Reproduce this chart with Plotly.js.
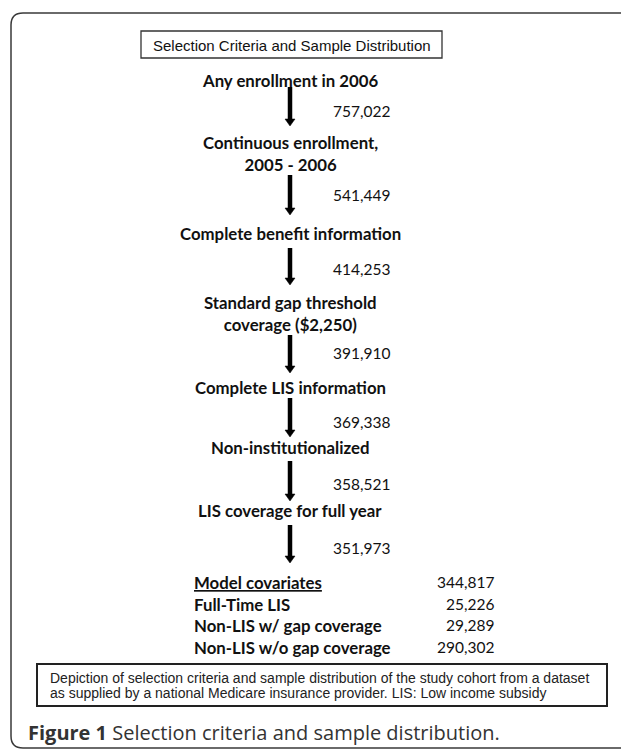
<!DOCTYPE html>
<html>
<head>
<meta charset="utf-8">
<script src="https://cdn.plot.ly/plotly-3.0.1.min.js"></script>
<style>html,body{margin:0;padding:0;background:#fff;}#chart{width:621px;height:750px;}</style>
</head>
<body>
<div id="chart"></div>
<script>
// ---- data ----
var headerText = "Selection Criteria and Sample Distribution";
var stepLabels = [
  "Any enrollment in 2006",
  "Continuous enrollment,<br>2005 - 2006",
  "Complete benefit information",
  "Standard gap threshold<br>coverage ($2,250)",
  "Complete LIS information",
  "Non-institutionalized",
  "LIS coverage for full year"
];
var stepCounts = [757022, 541449, 414253, 391910, 369338, 358521, 351973];
var covariateLabels = ["Model covariates", "Full-Time LIS", "Non-LIS w/ gap coverage", "Non-LIS w/o gap coverage"];
var covariateCounts = [344817, 25226, 29289, 290302];
var footnoteLines = [
  "Depiction of selection criteria and sample distribution of the study cohort from a dataset",
  "as supplied by a national Medicare insurance provider. LIS: Low income subsidy"
];
var captionBold = "Figure 1";
var captionText = " Selection criteria and sample distribution.";

// ---- layout positions (pixel-like coordinates) ----
var cx = 290;
var labelY = [80, 153, 233, 313, 387, 447, 510];
var arrowY = [[87,126],[175,215],[248,285],[335,373],[398,437],[461,501],[525,563]];
var countY = [111, 195, 269, 353, 422, 484, 548];
var countX = 331;
var covY = [582, 604, 625, 647];
var covLabelX = 192, covCountX = 496;
var footY = [678, 693];

function fmt(n){ return n.toLocaleString('en-US'); }

var stepFont = {family: "Lato, 'Open Sans', sans-serif", size: 16.8, color: "#111"};
var countFont = {family: "Lato, 'Open Sans', sans-serif", size: 15.5, color: "#111"};

var annotations = [];
var shapes = [];

// outer rounded frame
shapes.push({type:'path', xref:'x', yref:'y',
  path:'M 660,13 L 23,13 Q 11,13 11,25 L 11,736 Q 11,748 23,748 L 660,748',
  line:{color:'#3a3a3a', width:1.5}});
// header box
shapes.push({type:'rect', xref:'x', yref:'y', x0:141, x1:442, y0:31, y1:58, line:{color:'#333', width:1.3}});
annotations.push({xref:'x', yref:'y', x:291.5, y:45, text:headerText, showarrow:false,
  xanchor:'center', yanchor:'middle', font:{family:"'Liberation Sans', Arial, sans-serif", size:15, color:'#111'}});

// steps
for (var i = 0; i < stepLabels.length; i++) {
  annotations.push({xref:'x', yref:'y', x:cx, y:labelY[i], text:'<b>'+stepLabels[i]+'</b>', showarrow:false,
    xanchor:'center', yanchor:'middle', align:'center', font:stepFont});
  annotations.push({xref:'x', yref:'y', x:countX, y:countY[i], text:fmt(stepCounts[i]), showarrow:false,
    xanchor:'left', yanchor:'middle', font:countFont});
  var a0 = arrowY[i][0], a1 = arrowY[i][1];
  shapes.push({type:'line', xref:'x', yref:'y', x0:cx, x1:cx, y0:a0, y1:a1-5, line:{color:'#000', width:4.5}});
  shapes.push({type:'path', xref:'x', yref:'y',
    path:'M '+(cx-5)+','+(a1-7)+' L '+(cx+5)+','+(a1-7)+' L '+cx+','+a1+' Z',
    fillcolor:'#000', line:{color:'#000', width:0.5}});
}

// covariates
for (var j = 0; j < covariateLabels.length; j++) {
  var lbl = j === 0 ? '<b><u>'+covariateLabels[j]+'</u></b>' : '<b>'+covariateLabels[j]+'</b>';
  annotations.push({xref:'x', yref:'y', x:covLabelX, y:covY[j], text:lbl, showarrow:false,
    xanchor:'left', yanchor:'middle', font:stepFont});
  annotations.push({xref:'x', yref:'y', x:covCountX, y:covY[j], text:fmt(covariateCounts[j]), showarrow:false,
    xanchor:'right', yanchor:'middle', font:countFont});
}

// footnote box
shapes.push({type:'rect', xref:'x', yref:'y', x0:37, x1:607, y0:664, y1:706, line:{color:'#222', width:2}});
for (var k = 0; k < footnoteLines.length; k++) {
  annotations.push({xref:'x', yref:'y', x:48, y:footY[k], text:footnoteLines[k], showarrow:false,
    xanchor:'left', yanchor:'middle', align:'left',
    font:{family:"'Liberation Sans', Arial, sans-serif", size:14, color:'#222'}});
}

// caption
annotations.push({xref:'x', yref:'y', x:26, y:732, text:'<b>'+captionBold+'</b>'+captionText, showarrow:false,
  xanchor:'left', yanchor:'middle', font:{family:"'Open Sans', sans-serif", size:20, color:'#333'}});

var layout = {
  width:621, height:750,
  margin:{l:0, r:0, t:0, b:0},
  paper_bgcolor:'#fff', plot_bgcolor:'#fff',
  showlegend:false,
  xaxis:{range:[0,621], visible:false, fixedrange:true},
  yaxis:{range:[750,0], visible:false, fixedrange:true},
  shapes:shapes,
  annotations:annotations
};

Plotly.newPlot('chart', [{x:[], y:[], type:'scatter', mode:'markers', hoverinfo:'skip'}], layout, {staticPlot:true, displayModeBar:false});
</script>
</body>
</html>
